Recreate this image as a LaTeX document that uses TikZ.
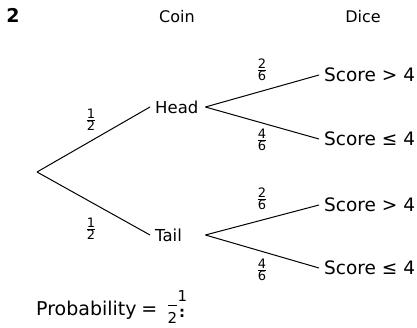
\documentclass[tikz,border=0pt]{standalone}
\usepackage{fontspec}
\setmainfont{DejaVu Sans}
\begin{document}
\begin{tikzpicture}[x=1pt,y=-1pt,
  lbl/.style={font=\fontsize{18.5}{21}\selectfont, inner xsep=5pt, inner ysep=2pt, anchor=west},
  coinlbl/.style={lbl, font=\fontsize{16.5}{19}\selectfont, text width=45pt, align=left},
  hdr/.style={font=\fontsize{16}{18}\selectfont},
  fr/.style={font=\fontsize{13}{15}\selectfont, inner sep=0pt},
  br/.style={line width=1pt, black}]
\useasboundingbox (0,0) rectangle (417,328);
\node[font=\fontsize{19}{22}\selectfont\bfseries] (num) at (13,15) {2};
\node[hdr] (coin) at (177,17) {Coin};
\node[hdr] (dice) at (363,17) {Dice};
\coordinate (root) at (37,172);
\node[coinlbl] (head) at (150,107) {Head};
\node[coinlbl] (tail) at (150,235) {Tail};
\node[lbl] (h1) at (319,75) {Score > 4};
\node[lbl] (h2) at (319,139) {Score ≤ 4};
\node[lbl] (t1) at (319,205) {Score > 4};
\node[lbl] (t2) at (319,268) {Score ≤ 4};
\draw[br] (root) -- (head.west);
\draw[br] (root) -- (tail.west);
\draw[br] (head.east) -- (h1.west);
\draw[br] (head.east) -- (h2.west);
\draw[br] (tail.east) -- (t1.west);
\draw[br] (tail.east) -- (t2.west);
\node[fr] (f1) at (91,120) {$\frac{\mbox{1}}{\mbox{2}}$};
\node[fr] (f2) at (91,229) {$\frac{\mbox{1}}{\mbox{2}}$};
\node[fr] (f3) at (262,70) {$\frac{\mbox{2}}{\mbox{6}}$};
\node[fr] (f4) at (262,140) {$\frac{\mbox{4}}{\mbox{6}}$};
\node[fr] (f5) at (262,199) {$\frac{\mbox{2}}{\mbox{6}}$};
\node[fr] (f6) at (262,270) {$\frac{\mbox{4}}{\mbox{6}}$};
\node[font=\fontsize{19}{22}\selectfont, anchor=base west, inner sep=0pt] (prob) at (36,315) {Probability\hspace{0.25em}=};
\draw[line width=0.8pt] (168,305) -- (177,305);
\node[font=\fontsize{15}{17}\selectfont, anchor=base, inner sep=0pt] (p2) at (172.5,323) {2};
\node[font=\fontsize{15}{17}\selectfont, anchor=base, inner sep=0pt] (p1) at (182.5,301) {1};
\node[font=\fontsize{15}{17}\selectfont\bfseries, anchor=base, inner sep=0pt] (pc) at (182,317) {:};
\end{tikzpicture}
\end{document}
